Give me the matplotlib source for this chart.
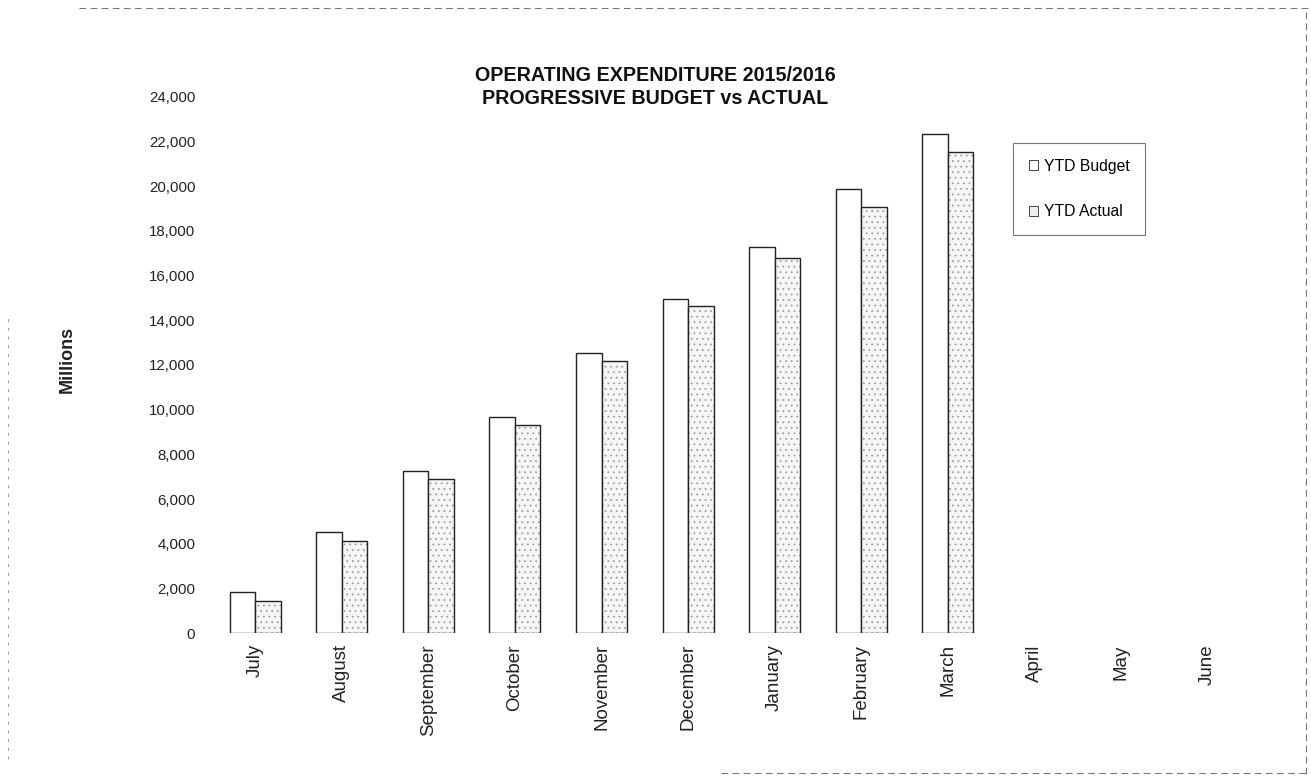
import matplotlib
matplotlib.use("Agg")
import matplotlib.pyplot as plt
from matplotlib.patches import Patch
from matplotlib.lines import Line2D
from matplotlib.ticker import FuncFormatter, MultipleLocator
import numpy as np

months = ["July", "August", "September", "October", "November", "December",
          "January", "February", "March", "April", "May", "June"]
ytd_budget = [1840, 4535, 7250, 9660, 12520, 14950, 17300, 19880, 22330]
ytd_actual = [1450, 4135, 6880, 9320, 12190, 14640, 16780, 19090, 21530]

plt.rcParams['font.family'] = ['Liberation Sans', 'DejaVu Sans']

fig = plt.figure(figsize=(13.11, 7.82), dpi=100)
ax = fig.add_axes([0.1617, 0.1905, 0.7923, 0.6855])

x_all = np.arange(len(months))
xb = np.arange(len(ytd_budget))
xa = np.arange(len(ytd_actual))
w = 0.294

ax.bar(xb - w / 2, ytd_budget, width=w, facecolor='white', edgecolor='#222222', linewidth=1.0)
plt.rcParams['hatch.linewidth'] = 0.6
ax.bar(xa + w / 2, ytd_actual, width=w, facecolor='#f6f6f6', edgecolor='#a0a0a0',
       hatch='...', linewidth=0)
ax.bar(xa + w / 2, ytd_actual, width=w, facecolor='none', edgecolor='#222222', linewidth=1.0)

ax.set_xlim(-0.5, len(months) - 0.5)
ax.set_ylim(0, 24000)
ax.yaxis.set_major_locator(MultipleLocator(2000))
ax.yaxis.set_major_formatter(FuncFormatter(lambda v, p: f"{int(v):,}"))
ax.set_xticks(x_all)
ax.set_xticklabels(months, rotation=90, fontsize=13.5, color='#222222')
ax.tick_params(axis='y', length=0, pad=12, labelsize=10.8, labelcolor='#222222')
ax.tick_params(axis='x', length=0, pad=8)
for s in ax.spines.values():
    s.set_visible(False)

ax.set_ylabel("Millions", fontsize=13, fontweight='bold', color='#222222')
ax.yaxis.set_label_coords(-0.131, 0.51)

fig.text(0.5, 0.889, "OPERATING EXPENDITURE 2015/2016\nPROGRESSIVE BUDGET vs ACTUAL",
         ha='center', va='center', fontsize=14.2, fontweight='bold', linespacing=1.3,
         color='#111111')

handles = [Patch(facecolor='white', edgecolor='#444444', linewidth=0.7, label='YTD Budget'),
           Patch(facecolor='#eeeeee', edgecolor='#444444', linewidth=0.7, label='YTD Actual')]
leg = fig.legend(handles=handles, loc='upper left', bbox_to_anchor=(1013 / 1311, 1 - 143 / 782),
                 frameon=True, fancybox=False, fontsize=11.3, handlelength=0.6, handleheight=0.6,
                 handletextpad=0.35, labelspacing=1.95, borderpad=1.0, borderaxespad=0)
leg.get_frame().set_edgecolor('#555555')
leg.get_frame().set_linewidth(0.8)
leg.get_frame().set_boxstyle('Square', pad=0.0)

# scanned page border (partial dashed lines)
ls = (0, (6, 4))
fig.add_artist(Line2D([0.06, 0.998], [0.99, 0.99], transform=fig.transFigure,
                      color='#777777', lw=0.8, linestyle=ls))
fig.add_artist(Line2D([0.996, 0.996], [0.01, 0.99], transform=fig.transFigure,
                      color='#777777', lw=0.8, linestyle=ls))
fig.add_artist(Line2D([0.006, 0.006], [0.03, 0.6], transform=fig.transFigure,
                      color='#999999', lw=0.7, linestyle=(0, (3, 6))))
fig.add_artist(Line2D([0.55, 0.996], [0.012, 0.012], transform=fig.transFigure,
                      color='#777777', lw=0.8, linestyle=ls))

fig.savefig("out.png", dpi=100)
